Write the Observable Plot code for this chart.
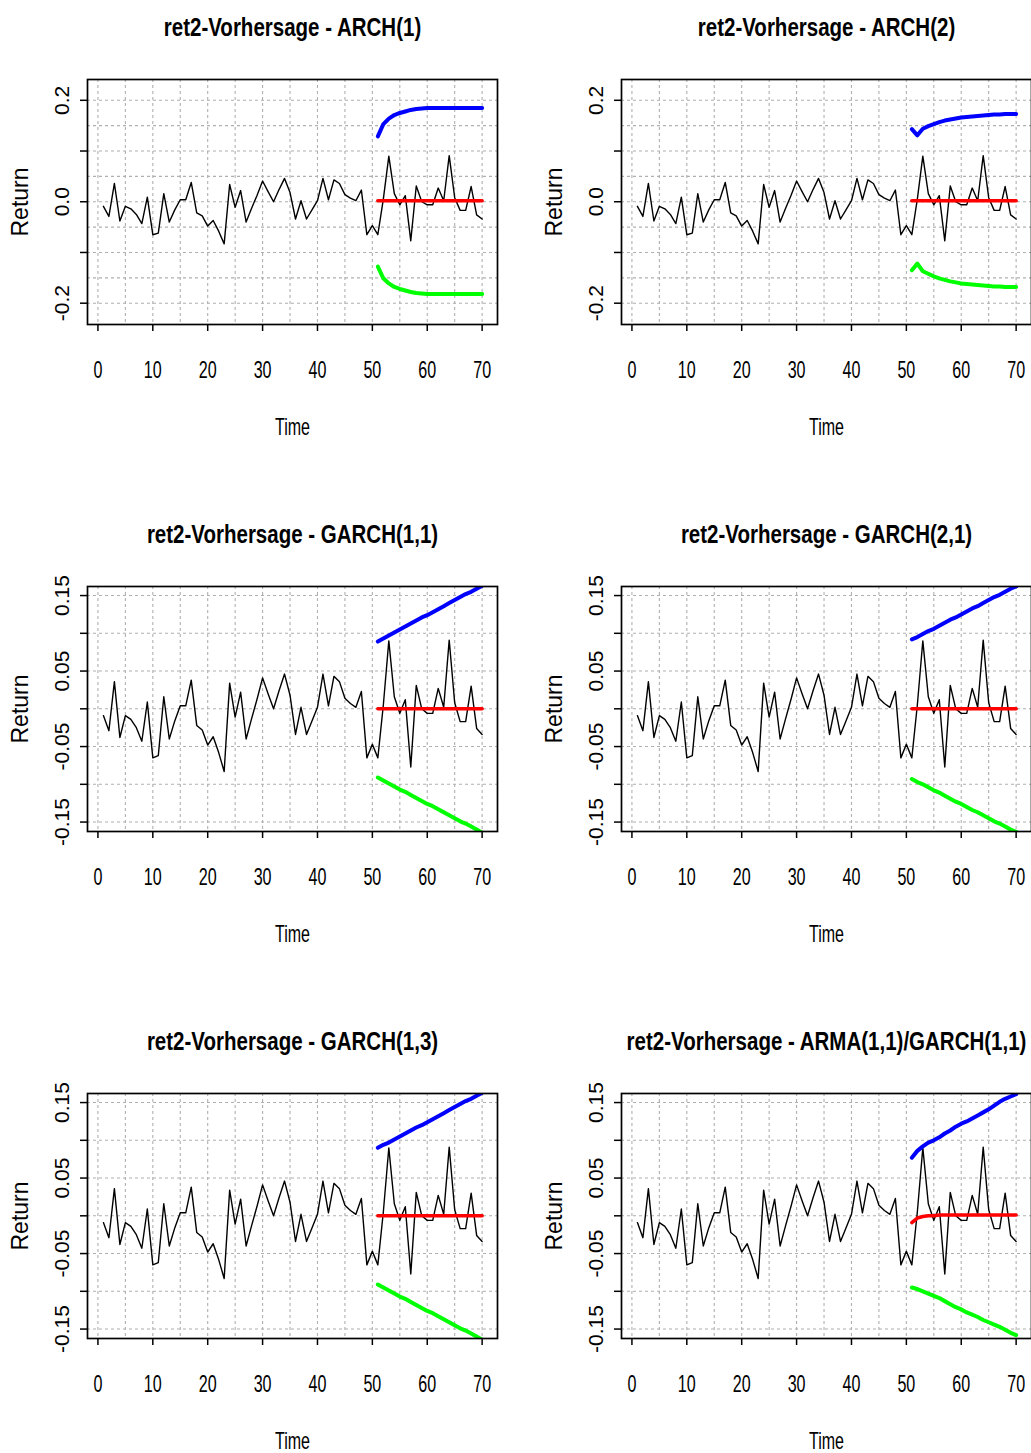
<!DOCTYPE html>
<html>
<head>
<meta charset="utf-8">
<script src="https://cdn.jsdelivr.net/npm/d3@7"></script>
<script src="https://cdn.jsdelivr.net/npm/@observablehq/plot@0.6"></script>
<style>
  html, body { margin: 0; padding: 0; background: #fff; overflow: hidden; }
  #page { position: relative; width: 1031px; height: 1453px; overflow: hidden; background: #fff; }
  .panel { position: absolute; width: 534px; height: 507px; overflow: visible; }
  .panel svg { max-width: none !important; width: 534px; height: 507px; }
</style>
</head>
<body>
<div id="page"></div>
<script>
// Observed returns (ret2), periods 1..70
const ret2 = [
  -0.009, -0.029, 0.036, -0.038, -0.009, -0.014, -0.025, -0.043, 0.009, -0.065,
  -0.062, 0.016, -0.040, -0.016, 0.004, 0.004, 0.038, -0.022, -0.028, -0.048,
  -0.037, -0.058, -0.083, 0.034, -0.011, 0.022, -0.040, -0.013, 0.013, 0.041,
  0.020, 0.000, 0.024, 0.046, 0.018, -0.034, 0.002, -0.034, -0.016, 0.002,
  0.046, 0.004, 0.043, 0.036, 0.014, 0.007, 0.002, 0.023, -0.065, -0.047,
  -0.065, 0.005, 0.090, 0.016, -0.006, 0.012, -0.077, 0.031, 0.000, -0.006,
  -0.006, 0.027, 0.002, 0.091, 0.008, -0.017, -0.017, 0.030, -0.026, -0.034
];

// Forecast horizon: periods 51..70
const forecastStart = 51;

// ARCH(1)
const arch1Mean  = [0.002, 0.002, 0.002, 0.002, 0.002, 0.002, 0.002, 0.002, 0.002, 0.002,
                    0.002, 0.002, 0.002, 0.002, 0.002, 0.002, 0.002, 0.002, 0.002, 0.002];
const arch1Upper = [0.129, 0.153, 0.164, 0.171, 0.175, 0.178, 0.181, 0.183, 0.184, 0.185,
                    0.185, 0.185, 0.185, 0.185, 0.185, 0.185, 0.185, 0.185, 0.185, 0.185];
const arch1Lower = [-0.128, -0.151, -0.161, -0.168, -0.172, -0.175, -0.178, -0.180, -0.181, -0.182,
                    -0.182, -0.182, -0.182, -0.182, -0.182, -0.182, -0.182, -0.182, -0.182, -0.182];

// ARCH(2)
const arch2Mean  = [0.002, 0.002, 0.002, 0.002, 0.002, 0.002, 0.002, 0.002, 0.002, 0.002,
                    0.002, 0.002, 0.002, 0.002, 0.002, 0.002, 0.002, 0.002, 0.002, 0.002];
const arch2Upper = [0.143, 0.131, 0.144, 0.149, 0.153, 0.157, 0.160, 0.162, 0.164, 0.166,
                    0.167, 0.168, 0.169, 0.170, 0.171, 0.172, 0.172, 0.173, 0.173, 0.173];
const arch2Lower = [-0.135, -0.122, -0.137, -0.142, -0.147, -0.151, -0.154, -0.157, -0.159, -0.161,
                    -0.162, -0.163, -0.164, -0.165, -0.166, -0.167, -0.167, -0.168, -0.168, -0.168];

// GARCH(1,1)
const garch11Mean  = [0.000, 0.000, 0.000, 0.000, 0.000, 0.000, 0.000, 0.000, 0.000, 0.000,
                      0.000, 0.000, 0.000, 0.000, 0.000, 0.000, 0.000, 0.000, 0.000, 0.000];
const garch11Upper = [0.089, 0.093, 0.097, 0.101, 0.105, 0.109, 0.113, 0.117, 0.121, 0.124,
                      0.128, 0.132, 0.136, 0.140, 0.144, 0.148, 0.152, 0.155, 0.159, 0.163];
const garch11Lower = [-0.091, -0.095, -0.099, -0.103, -0.107, -0.110, -0.114, -0.118, -0.122, -0.126,
                      -0.129, -0.133, -0.137, -0.141, -0.145, -0.149, -0.152, -0.156, -0.160, -0.164];

// GARCH(2,1)
const garch21Mean  = [0.000, 0.000, 0.000, 0.000, 0.000, 0.000, 0.000, 0.000, 0.000, 0.000,
                      0.000, 0.000, 0.000, 0.000, 0.000, 0.000, 0.000, 0.000, 0.000, 0.000];
const garch21Upper = [0.092, 0.095, 0.099, 0.103, 0.106, 0.110, 0.114, 0.118, 0.121, 0.125,
                      0.129, 0.133, 0.136, 0.140, 0.144, 0.148, 0.151, 0.155, 0.159, 0.162];
const garch21Lower = [-0.093, -0.097, -0.100, -0.104, -0.108, -0.111, -0.115, -0.119, -0.123, -0.126,
                      -0.130, -0.134, -0.137, -0.141, -0.145, -0.149, -0.152, -0.156, -0.160, -0.163];

// GARCH(1,3)
const garch13Mean  = [0.000, 0.000, 0.000, 0.000, 0.000, 0.000, 0.000, 0.000, 0.000, 0.000,
                      0.000, 0.000, 0.000, 0.000, 0.000, 0.000, 0.000, 0.000, 0.000, 0.000];
const garch13Upper = [0.090, 0.094, 0.097, 0.101, 0.105, 0.109, 0.113, 0.117, 0.120, 0.124,
                      0.128, 0.132, 0.136, 0.140, 0.144, 0.148, 0.152, 0.155, 0.159, 0.163];
const garch13Lower = [-0.091, -0.095, -0.099, -0.103, -0.107, -0.110, -0.114, -0.118, -0.122, -0.126,
                      -0.129, -0.133, -0.137, -0.141, -0.145, -0.149, -0.152, -0.156, -0.160, -0.164];

// ARMA(1,1)/GARCH(1,1)
const armaMean  = [-0.009, -0.003, -0.001, 0.000, 0.000, 0.001, 0.001, 0.001, 0.001, 0.001,
                   0.001, 0.001, 0.001, 0.001, 0.001, 0.001, 0.001, 0.001, 0.001, 0.001];
const armaUpper = [0.077, 0.086, 0.092, 0.097, 0.100, 0.104, 0.109, 0.113, 0.118, 0.122,
                   0.125, 0.129, 0.133, 0.137, 0.141, 0.146, 0.151, 0.155, 0.158, 0.161];
const armaLower = [-0.095, -0.097, -0.100, -0.103, -0.106, -0.109, -0.113, -0.117, -0.121, -0.124,
                   -0.128, -0.131, -0.134, -0.138, -0.141, -0.144, -0.147, -0.151, -0.155, -0.158];

// Axes
const xTicks = [0, 10, 20, 30, 40, 50, 60, 70];
const xGrid = [0, 5, 10, 15, 20, 25, 30, 35, 40, 45, 50, 55, 60, 65, 70];
const archYTicks = [-0.2, -0.1, 0, 0.1, 0.2];
const archYLabels = [-0.2, 0, 0.2];
const archYLabelText = ["-0.2", "0.0", "0.2"];
const archYGrid = [-0.2, -0.15, -0.1, -0.05, 0, 0.05, 0.1, 0.15, 0.2];
const garchYTicks = [-0.15, -0.10, -0.05, 0, 0.05, 0.10, 0.15];
const garchYLabels = [-0.15, -0.05, 0.05, 0.15];
const garchYLabelText = ["-0.15", "-0.05", "0.05", "0.15"];
const archYDomain = [-0.242, 0.241];
const garchYDomain = [-0.1625, 0.162];

const panels = [
  {title: "ret2-Vorhersage - ARCH(1)", mean: arch1Mean, upper: arch1Upper, lower: arch1Lower, kind: "arch"},
  {title: "ret2-Vorhersage - ARCH(2)", mean: arch2Mean, upper: arch2Upper, lower: arch2Lower, kind: "arch"},
  {title: "ret2-Vorhersage - GARCH(1,1)", mean: garch11Mean, upper: garch11Upper, lower: garch11Lower, kind: "garch"},
  {title: "ret2-Vorhersage - GARCH(2,1)", mean: garch21Mean, upper: garch21Upper, lower: garch21Lower, kind: "garch"},
  {title: "ret2-Vorhersage - GARCH(1,3)", mean: garch13Mean, upper: garch13Upper, lower: garch13Lower, kind: "garch"},
  {title: "ret2-Vorhersage - ARMA(1,1)/GARCH(1,1)", mean: armaMean, upper: armaUpper, lower: armaLower, kind: "arma"}
];

const FONT = "'Liberation Sans', Arial, Helvetica, sans-serif";

// Sizes double as hooks: horizontal texts are set in a narrow face,
// so the groups carrying these font sizes get compressed around their anchor.
const TICK_SIZE = 23.7, XTITLE_SIZE = 23.6, TITLE_SIZE = 25;
const squeezeBy = [[TICK_SIZE, 0.68], [XTITLE_SIZE, 0.68], [TITLE_SIZE, 0.82]];

function squeeze(svg) {
  for (const [size, sx] of squeezeBy) {
    svg.querySelectorAll("g").forEach(g => {
      if (+g.getAttribute("font-size") !== size) return;
      g.querySelectorAll("text").forEach(el => {
        const t = el.getAttribute("transform") || "";
        el.setAttribute("transform", `${t} scale(${sx},1)`);
      });
    });
  }
}

function drawPanel(p) {
  const obs = ret2.map((v, i) => ({t: i + 1, v}));
  const fc = p.mean.map((m, i) => ({t: forecastStart + i, mean: m, upper: p.upper[i], lower: p.lower[i]}));
  const isArch = p.kind === "arch";
  const yTicks = isArch ? archYTicks : garchYTicks;
  const yLabels = isArch ? archYLabels : garchYLabels;
  const yLabelText = isArch ? archYLabelText : garchYLabelText;
  const yGrid = isArch ? archYGrid : garchYTicks;
  const gridStyle = {stroke: "#b0b0b0", strokeOpacity: 1, strokeWidth: 1.1, strokeDasharray: "3,3"};

  const svg = Plot.plot({
    width: 534,
    height: 507,
    marginLeft: 87,
    marginRight: 37,
    marginTop: 79,
    marginBottom: 183,
    style: {fontFamily: FONT, background: "transparent", color: "black", overflow: "visible", maxWidth: "none"},
    x: {domain: [-1.9, 72.8]},
    y: {domain: isArch ? archYDomain : garchYDomain},
    marks: [
      Plot.gridX(xGrid, gridStyle),
      Plot.gridY(yGrid, gridStyle),
      Plot.line(obs, {x: "t", y: "v", stroke: "black", strokeWidth: 1.4}),
      Plot.line(fc, {x: "t", y: "upper", stroke: "#0000ff", strokeWidth: 4, clip: true}),
      Plot.line(fc, {x: "t", y: "lower", stroke: "#00ff00", strokeWidth: 4, clip: true}),
      Plot.line(fc, {x: "t", y: "mean", stroke: "#ff0000", strokeWidth: 3.6}),
      Plot.frame({stroke: "black", strokeWidth: 1.7}),
      Plot.axisX({ticks: xTicks, tickSize: 7, tickFormat: () => "", label: null, strokeWidth: 1.5}),
      Plot.axisY({ticks: yTicks, tickSize: 7, tickFormat: () => "", label: null, strokeWidth: 1.5}),
      Plot.text(xTicks, {x: d => d, frameAnchor: "bottom", dy: 46, text: d => String(d),
        fontSize: TICK_SIZE, lineAnchor: "middle", textAnchor: "middle"}),
      Plot.text(yLabels, {y: d => d, frameAnchor: "left", dx: -25, rotate: -90,
        text: (d, i) => yLabelText[i], fontSize: 21, lineAnchor: "middle", textAnchor: "middle"}),
      Plot.text(["Time"], {frameAnchor: "bottom", dy: 103, fontSize: XTITLE_SIZE, lineAnchor: "middle", textAnchor: "middle"}),
      Plot.text(["Return"], {frameAnchor: "left", dx: -67, rotate: -90, fontSize: 23, lineAnchor: "middle", textAnchor: "middle"}),
      Plot.text([p.title], {frameAnchor: "top", dy: -52, fontSize: TITLE_SIZE, fontWeight: "bold", lineAnchor: "middle", textAnchor: "middle"})
    ]
  });
  squeeze(svg);
  return svg;
}

const page = document.getElementById("page");
panels.forEach((p, i) => {
  const col = i % 2, row = Math.floor(i / 2);
  const holder = document.createElement("div");
  holder.className = "panel";
  holder.style.left = `${col * 534}px`;
  holder.style.top = `${row * 507}px`;
  holder.appendChild(drawPanel(p));
  page.appendChild(holder);
});
</script>
</body>
</html>
